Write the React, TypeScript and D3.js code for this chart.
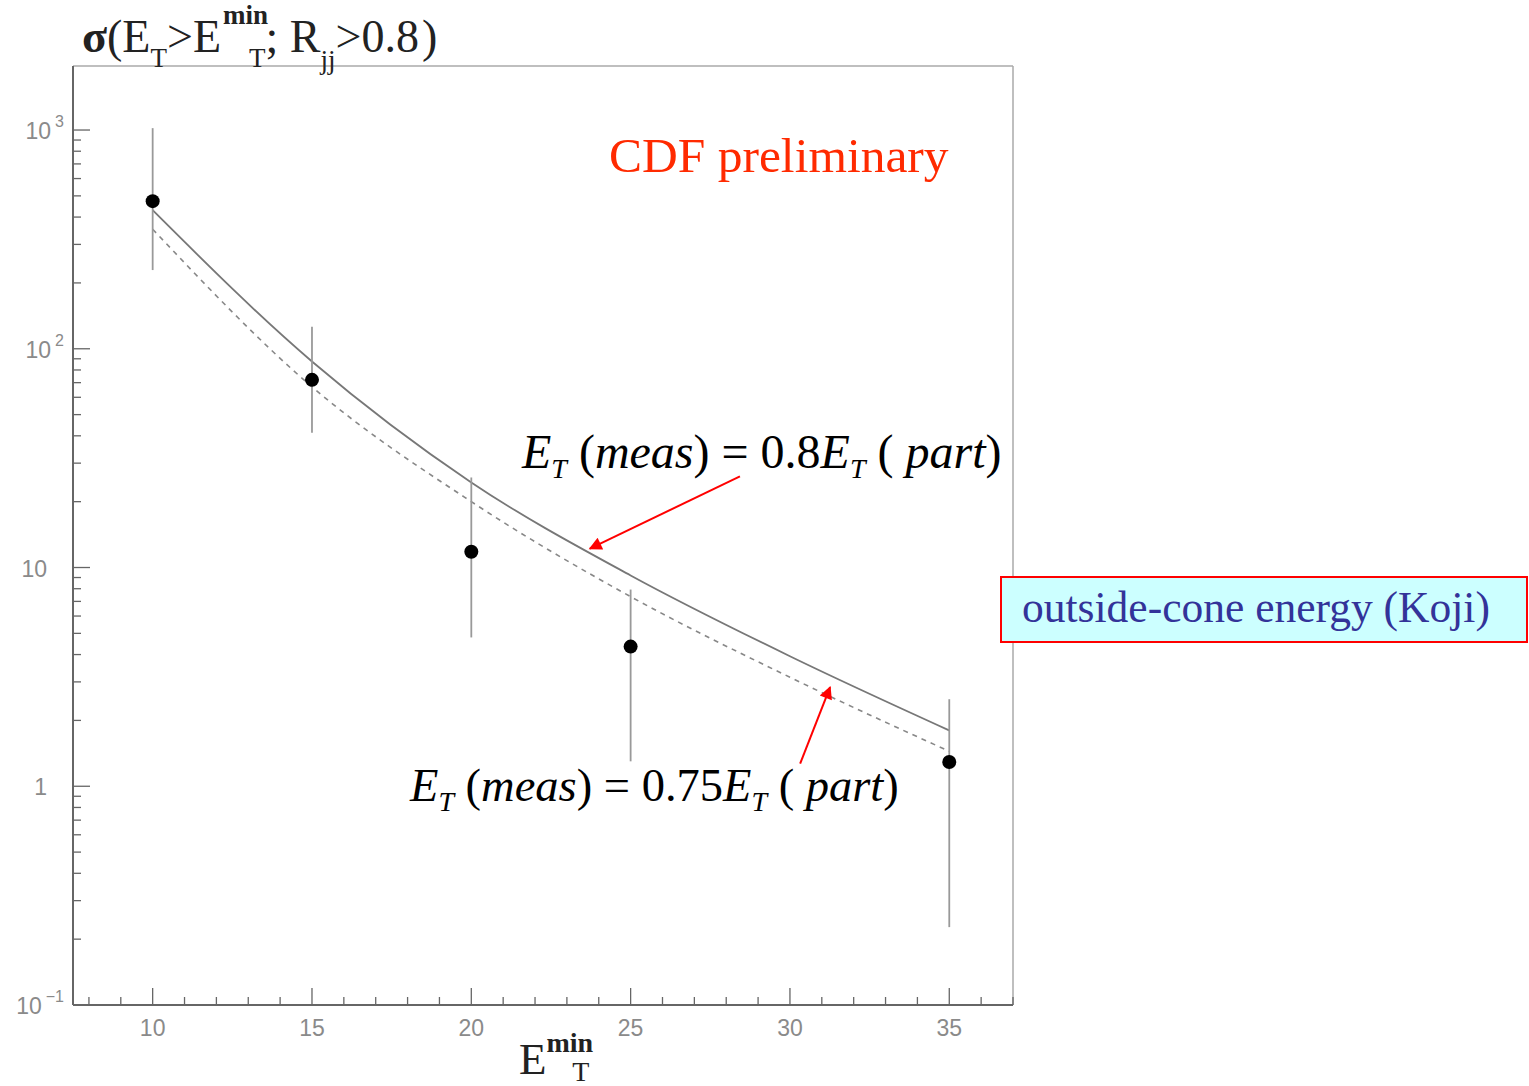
import React from 'react';
import * as d3 from 'd3';

// ---- data ----
const ET = [10, 15, 20, 25, 35];
const sigma = [473, 72.1, 11.8, 4.35, 1.29];
const errHi = [1020, 126, 25.8, 7.93, 2.5];
const errLo = [229, 41.3, 4.79, 1.3, 0.227];

const curveET = [10, 15, 20, 25, 30, 35];
const curve080 = [430, 87.5, 24.5, 9.2, 3.93, 1.8];
const curve075 = [352, 67, 20, 7.36, 3.15, 1.445];

const xMajorTicks = [10, 15, 20, 25, 30, 35];
const xMinorTicks = d3.range(8, 38);
const yMajorTicks = [0.1, 1, 10, 100, 1000];
const yTickBase = ['10', '1', '10', '10', '10'];
const yTickExp = ['\u22121', '', '', '2', '3'];

// annotation arrows in data units [x0, y0, x1(tip), y1(tip)]
const arrow080 = [28.43, 26.1, 23.72, 12.2];
const arrow075 = [30.32, 1.27, 31.26, 2.84];

const SERIF = '"Liberation Serif", "Times New Roman", serif';
const SANS = '"Liberation Sans", Arial, sans-serif';

export default function App() {
  const W = 1529;
  const H = 1086;
  const left = 73, right = 1013, top = 66, bottom = 1005;
  const x = d3.scaleLinear().domain([7.5, 37]).range([left, right]);
  const y = d3.scaleLog().domain([0.1, 1962]).range([bottom, top]);

  const yMinor: number[] = [];
  [0.1, 1, 10, 100].forEach((d) => {
    for (let k = 2; k <= 9; k++) yMinor.push(k * d);
  });

  const line = d3
    .line<number>()
    .x((_, i) => x(curveET[i]))
    .y((d) => y(d))
    .curve(d3.curveMonotoneX);

  const arrow = (a: number[]) => ({
    x1: x(a[0]),
    y1: y(a[1]),
    x2: x(a[2]),
    y2: y(a[3]),
  });
  const a1 = arrow(arrow080);
  const a2 = arrow(arrow075);

  const formula = (x0: number, y0: number, coef: string, fs: number) => (
    <text x={x0} y={y0} fontFamily={SERIF} fontSize={fs} fill="#000">
      <tspan fontStyle="italic">E</tspan>
      <tspan fontStyle="italic" fontSize={28} dy={10}>T</tspan>
      <tspan dy={-10}>{' (' }</tspan>
      <tspan fontStyle="italic">meas</tspan>
      <tspan>{') = ' + coef}</tspan>
      <tspan fontStyle="italic">E</tspan>
      <tspan fontStyle="italic" fontSize={28} dy={10}>T</tspan>
      <tspan dy={-10}>{' ( '}</tspan>
      <tspan fontStyle="italic">part</tspan>
      <tspan>)</tspan>
    </text>
  );

  return (
    <svg
      width={W}
      height={H}
      style={{ position: 'absolute', left: 0, top: 0, background: '#fff' }}
    >
      <defs>
        <marker
          id="arrowRed"
          viewBox="0 0 10 10"
          refX="9"
          refY="5"
          markerWidth="15"
          markerHeight="13"
          markerUnits="userSpaceOnUse"
          orient="auto"
        >
          <path d="M0,0 L10,5 L0,10 z" fill="#ff0000" />
        </marker>
      </defs>
      <rect x={0} y={0} width={W} height={H} fill="#fff" />

      {/* frame */}
      <line x1={left} y1={top} x2={right} y2={top} stroke="#aaa" strokeWidth={1.5} />
      <line x1={right} y1={top} x2={right} y2={bottom} stroke="#aaa" strokeWidth={1.5} />
      <line x1={left} y1={top} x2={left} y2={bottom} stroke="#666" strokeWidth={2} />
      <line x1={left} y1={bottom} x2={right} y2={bottom} stroke="#666" strokeWidth={2} />

      {/* x ticks */}
      {xMinorTicks.map((t) => (
        <line key={'xm' + t} x1={x(t)} x2={x(t)} y1={bottom} y2={bottom - (xMajorTicks.includes(t) ? 17 : 8)} stroke="#666" strokeWidth={1.3} />
      ))}
      {xMajorTicks.map((t) => (
        <text key={'xl' + t} x={x(t)} y={1036} textAnchor="middle" fontFamily={SANS} fontSize={23} fill="#8a8a8a">
          {t}
        </text>
      ))}

      {/* y ticks */}
      {yMinor.map((t) => (
        <line key={'ym' + t} x1={left} x2={left + 8} y1={y(t)} y2={y(t)} stroke="#666" strokeWidth={1.3} />
      ))}
      {yMajorTicks.map((t) => (
        <line key={'yM' + t} x1={left} x2={left + 17} y1={y(t)} y2={y(t)} stroke="#666" strokeWidth={1.3} />
      ))}
      {yMajorTicks.map((t, i) =>
        yTickExp[i] ? (
          <text key={'yl' + t} x={64} y={y(t) + 9} textAnchor="end" fontFamily={SANS} fontSize={23} fill="#8a8a8a">
            {yTickBase[i]}
            <tspan fontSize={16} dx={4} dy={-12}>{yTickExp[i]}</tspan>
          </text>
        ) : (
          <text key={'yl' + t} x={47} y={y(t) + 9} textAnchor="end" fontFamily={SANS} fontSize={23} fill="#8a8a8a">
            {yTickBase[i]}
          </text>
        )
      )}

      {/* curves */}
      <path d={line(curve080) || ''} fill="none" stroke="#777" strokeWidth={1.8} />
      <path d={line(curve075) || ''} fill="none" stroke="#888" strokeWidth={1.6} strokeDasharray="5,5" />

      {/* error bars and points */}
      {ET.map((e, i) => (
        <line key={'eb' + i} x1={x(e)} x2={x(e)} y1={y(errHi[i])} y2={y(errLo[i])} stroke="#999" strokeWidth={1.8} />
      ))}
      {ET.map((e, i) => (
        <circle key={'pt' + i} cx={x(e)} cy={y(sigma[i])} r={7} fill="#000" />
      ))}

      {/* y title */}
      <text x={82} y={52} fontFamily={SERIF} fontSize={46} fill="#222">
        <tspan fontWeight="bold">σ</tspan>
        <tspan>(E</tspan>
        <tspan fontSize={27} dy={15}>T</tspan>
        <tspan dy={-15}>{'>E'}</tspan>
        <tspan fontSize={27} fontWeight="bold" dx={2} dy={-28}>min</tspan>
        <tspan fontSize={27} dx={-19} dy={43}>T</tspan>
        <tspan dy={-15}>{'; R'}</tspan>
        <tspan fontSize={27} dy={17}>jj</tspan>
        <tspan dy={-17}>{'>0.8'}</tspan>
        <tspan dx={3}>)</tspan>
      </text>

      {/* x title */}
      <text x={519} y={1074} fontFamily={SERIF} fontSize={45} fill="#222">
        <tspan>E</tspan>
        <tspan fontSize={28} fontWeight="bold" dy={-22}>min</tspan>
        <tspan fontSize={28} dx={-21} dy={29}>T</tspan>
      </text>

      {/* CDF preliminary */}
      <text x={609} y={172} fontFamily={SERIF} fontSize={49.5} fill="#ff2a00">
        CDF preliminary
      </text>

      {/* formulas + arrows */}
      {formula(522, 468, '0.8', 48)}
      {formula(410, 801, '0.75', 46.5)}
      <line {...a1} stroke="#ff0000" strokeWidth={2} markerEnd="url(#arrowRed)" />
      <line {...a2} stroke="#ff0000" strokeWidth={2} markerEnd="url(#arrowRed)" />

      {/* box */}
      <rect x={1001} y={577} width={526} height={65} fill="#ccffff" stroke="#ff0000" strokeWidth={2} />
      <text x={1022} y={622} fontFamily={SERIF} fontSize={43.5} fill="#333399">
        outside-cone energy (Koji)
      </text>
    </svg>
  );
}
